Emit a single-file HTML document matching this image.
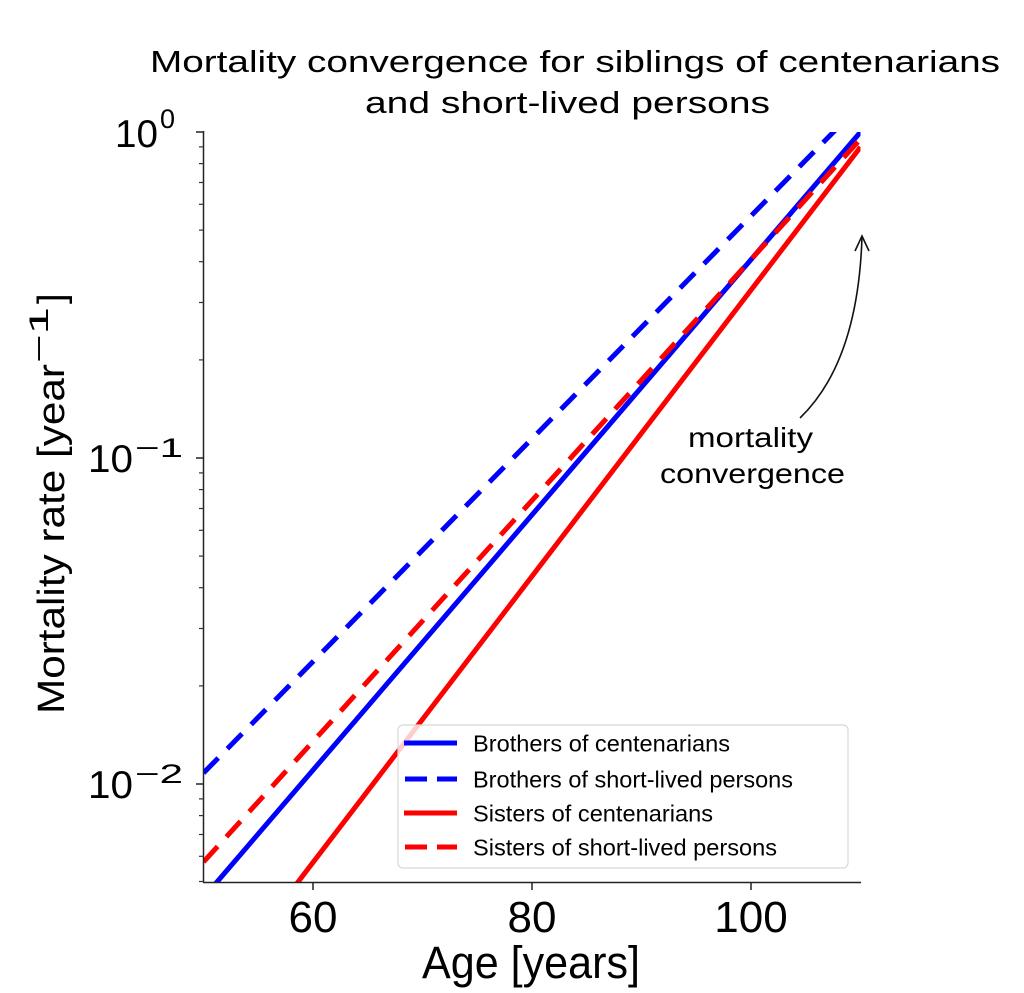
<!DOCTYPE html>
<html>
<head>
<meta charset="utf-8">
<style>
html,body{margin:0;padding:0;background:#fff;}
svg{display:block;}
text{font-family:"Liberation Sans",Arial,sans-serif;fill:#000;}
</style>
</head>
<body>
<svg width="1024" height="993" viewBox="0 0 1024 993" xmlns="http://www.w3.org/2000/svg">
<defs>
<clipPath id="ax"><rect x="203.5" y="132" width="657" height="750"/></clipPath>
</defs>
<rect width="1024" height="993" fill="#fff"/>

<!-- Title -->
<text x="150" y="72" font-size="31" textLength="850" lengthAdjust="spacingAndGlyphs">Mortality convergence for siblings of centenarians</text>
<text x="365" y="113" font-size="31" textLength="405" lengthAdjust="spacingAndGlyphs">and short-lived persons</text>

<!-- Series -->
<g clip-path="url(#ax)" fill="none" stroke-width="5">
<line x1="203.5" y1="897.7" x2="860.5" y2="132" stroke="#0000ff"/>
<line x1="203.5" y1="773" x2="860.5" y2="104.5" stroke="#0000ff" stroke-dasharray="21 13"/>
<line x1="203.5" y1="1005.5" x2="860.5" y2="147" stroke="#ff0000"/>
<line x1="203.5" y1="862" x2="860.5" y2="139" stroke="#ff0000" stroke-dasharray="21 13"/>
</g>

<!-- Spines -->
<g stroke="#222" stroke-width="1.5" fill="none">
<line x1="203.5" y1="131" x2="203.5" y2="882.5"/>
<line x1="203" y1="882.5" x2="861" y2="882.5"/>
<!-- major y ticks -->
<line x1="196" y1="132" x2="203.5" y2="132"/>
<line x1="196" y1="458" x2="203.5" y2="458"/>
<line x1="196" y1="784" x2="203.5" y2="784"/>
<!-- x ticks -->
<line x1="313" y1="882.5" x2="313" y2="890"/>
<line x1="532" y1="882.5" x2="532" y2="890"/>
<line x1="751" y1="882.5" x2="751" y2="890"/>
</g>
<g stroke="#333" stroke-width="1.2">
<line x1="199" y1="359.9" x2="203.5" y2="359.9"/>
<line x1="199" y1="302.5" x2="203.5" y2="302.5"/>
<line x1="199" y1="261.7" x2="203.5" y2="261.7"/>
<line x1="199" y1="230.1" x2="203.5" y2="230.1"/>
<line x1="199" y1="204.3" x2="203.5" y2="204.3"/>
<line x1="199" y1="182.5" x2="203.5" y2="182.5"/>
<line x1="199" y1="163.6" x2="203.5" y2="163.6"/>
<line x1="199" y1="146.9" x2="203.5" y2="146.9"/>
<line x1="199" y1="685.9" x2="203.5" y2="685.9"/>
<line x1="199" y1="628.5" x2="203.5" y2="628.5"/>
<line x1="199" y1="587.7" x2="203.5" y2="587.7"/>
<line x1="199" y1="556.1" x2="203.5" y2="556.1"/>
<line x1="199" y1="530.3" x2="203.5" y2="530.3"/>
<line x1="199" y1="508.5" x2="203.5" y2="508.5"/>
<line x1="199" y1="489.6" x2="203.5" y2="489.6"/>
<line x1="199" y1="472.9" x2="203.5" y2="472.9"/>
<line x1="199" y1="881.5" x2="203.5" y2="881.5"/>
<line x1="199" y1="856.3" x2="203.5" y2="856.3"/>
<line x1="199" y1="834.5" x2="203.5" y2="834.5"/>
<line x1="199" y1="815.6" x2="203.5" y2="815.6"/>
<line x1="199" y1="798.9" x2="203.5" y2="798.9"/>
</g>

<!-- Y tick labels -->
<text x="115" y="147" font-size="39" textLength="43" lengthAdjust="spacingAndGlyphs">10</text>
<text x="160" y="128" font-size="27">0</text>
<text x="88" y="472" font-size="39" textLength="45" lengthAdjust="spacingAndGlyphs">10</text>
<text x="135" y="457" font-size="27" textLength="48" lengthAdjust="spacingAndGlyphs">−1</text>
<text x="88" y="798" font-size="39" textLength="45" lengthAdjust="spacingAndGlyphs">10</text>
<text x="135" y="783" font-size="27" textLength="48" lengthAdjust="spacingAndGlyphs">−2</text>

<!-- X tick labels -->
<text x="313" y="932" font-size="44" text-anchor="middle">60</text>
<text x="532" y="932" font-size="44" text-anchor="middle">80</text>
<text x="751" y="932" font-size="44" text-anchor="middle">100</text>

<!-- Axis labels -->
<text x="422" y="978" font-size="45" textLength="218" lengthAdjust="spacingAndGlyphs">Age [years]</text>
<g transform="translate(64,714) rotate(-90)">
<text x="0" y="0" font-size="38" textLength="350" lengthAdjust="spacingAndGlyphs">Mortality rate [year</text>
<text x="351" y="-16" font-size="27" textLength="56" lengthAdjust="spacingAndGlyphs">−1</text>
<text x="410" y="0" font-size="38">]</text>
</g>

<!-- Annotation -->
<text x="688" y="447" font-size="28" textLength="125" lengthAdjust="spacingAndGlyphs">mortality</text>
<text x="660" y="483" font-size="28" textLength="185" lengthAdjust="spacingAndGlyphs">convergence</text>
<path d="M800,418 Q858,362 862,237" fill="none" stroke="#111" stroke-width="1.6"/>
<path d="M855,251 L862,236 L869,251" fill="none" stroke="#111" stroke-width="1.6"/>

<!-- Legend -->
<rect x="398" y="725" width="450" height="143" rx="5" ry="5" fill="#fff" fill-opacity="0.8" stroke="#d8d8d8" stroke-width="1.2"/>
<g stroke-width="5" fill="none">
<line x1="404" y1="743" x2="457" y2="743" stroke="#0000ff"/>
<line x1="405" y1="779" x2="457" y2="779" stroke="#0000ff" stroke-dasharray="22 10"/>
<line x1="404" y1="813" x2="457" y2="813" stroke="#ff0000"/>
<line x1="405" y1="847" x2="457" y2="847" stroke="#ff0000" stroke-dasharray="22 10"/>
</g>
<g font-size="23.5">
<text x="473" y="751.5" textLength="257" lengthAdjust="spacingAndGlyphs">Brothers of centenarians</text>
<text x="473" y="787.5" textLength="320" lengthAdjust="spacingAndGlyphs">Brothers of short-lived persons</text>
<text x="473" y="821.5" textLength="240" lengthAdjust="spacingAndGlyphs">Sisters of centenarians</text>
<text x="473" y="855.5" textLength="304" lengthAdjust="spacingAndGlyphs">Sisters of short-lived persons</text>
</g>
</svg>
</body>
</html>
